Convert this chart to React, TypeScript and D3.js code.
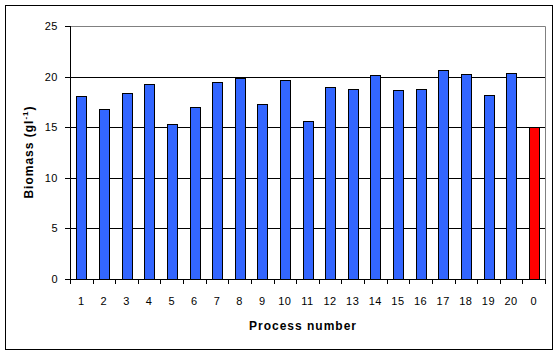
import React from "react";
import * as d3 from "d3";

const categories = ["1","2","3","4","5","6","7","8","9","10","11","12","13","14","15","16","17","18","19","20","0"];
const values = [18.1,16.8,18.4,19.3,15.3,17.0,19.5,19.9,17.3,19.7,15.6,19.0,18.8,20.2,18.7,18.8,20.7,20.3,18.2,20.4,15.0];
const barColors = ["#3366FF","#3366FF","#3366FF","#3366FF","#3366FF","#3366FF","#3366FF","#3366FF","#3366FF","#3366FF","#3366FF","#3366FF","#3366FF","#3366FF","#3366FF","#3366FF","#3366FF","#3366FF","#3366FF","#3366FF","#FF0000"];
const yTicks = [0,5,10,15,20,25];
const xTitle = "Process number";

export default function App() {
  const W = 558, H = 355;
  const L = 70, R = 545, T = 26, B = 279;
  const x = d3.scaleBand<string>().domain(categories).range([L, R]).paddingInner(0.57).paddingOuter(0.285);
  const xb = d3.scaleBand<string>().domain(categories).range([L, R]);
  const y = d3.scaleLinear().domain([0, 25]).range([B, T]);
  const font = "'Liberation Sans', Arial, sans-serif";
  return (
    <svg width={W} height={H} style={{ position: "absolute", left: 0, top: 0, fontFamily: font }}>
      <rect x={0} y={0} width={W} height={H} fill="#fff" />
      <rect x={5.5} y={5.5} width={547} height={344} fill="#fff" stroke="#000" strokeWidth={1} />
      {/* plot border gray */}
      <path d={`M${L},${T + 0.5}H${R + 0.5}V${B}`} fill="none" stroke="#808080" strokeWidth={1} />
      {yTicks.filter(t => t > 0 && t < 25).map(t => (
        <line key={t} x1={L} x2={R} y1={Math.round(y(t)) + 0.5} y2={Math.round(y(t)) + 0.5} stroke="#000" />
      ))}
      {categories.map((c, i) => {
        const v = values[i];
        const y0 = Math.round(y(v));
        return (
          <rect key={c} x={Math.round(x(c)!) + 0.5} y={y0 + 0.5} width={Math.round(x.bandwidth())} height={B - y0}
            fill={barColors[i]} stroke="#000" strokeWidth={1} />
        );
      })}
      {/* y axis */}
      <line x1={L + 0.5} x2={L + 0.5} y1={T} y2={B + 0.5} stroke="#000" />
      {yTicks.map(t => (
        <g key={t}>
          <line x1={L - 5} x2={L} y1={Math.round(y(t)) + 0.5} y2={Math.round(y(t)) + 0.5} stroke="#000" />
          <text x={58} y={y(t) + 4} textAnchor="end" fontSize={11} letterSpacing={0.5}>{t}</text>
        </g>
      ))}
      {/* x axis */}
      <line x1={L} x2={R + 1} y1={B + 0.5} y2={B + 0.5} stroke="#000" />
      {[...categories.map(c => xb(c)!), R].map((p, i) => (
        <line key={i} x1={Math.round(p) + 0.5} x2={Math.round(p) + 0.5} y1={B} y2={B + 5} stroke="#000" />
      ))}
      {categories.map(c => (
        <text key={c} x={xb(c)! + xb.bandwidth() / 2} y={305} textAnchor="middle" fontSize={11} letterSpacing={0.5}>{c}</text>
      ))}
      <text x={303} y={330} textAnchor="middle" fontSize={12} fontWeight="bold" letterSpacing={1}>{xTitle}</text>
      <text transform={`translate(33,152) rotate(-90)`} textAnchor="middle" fontSize={12} fontWeight="bold" letterSpacing={1}>
        Biomass (gl<tspan dy={-5} fontSize={8}>-1</tspan><tspan dy={5}>)</tspan>
      </text>
    </svg>
  );
}
